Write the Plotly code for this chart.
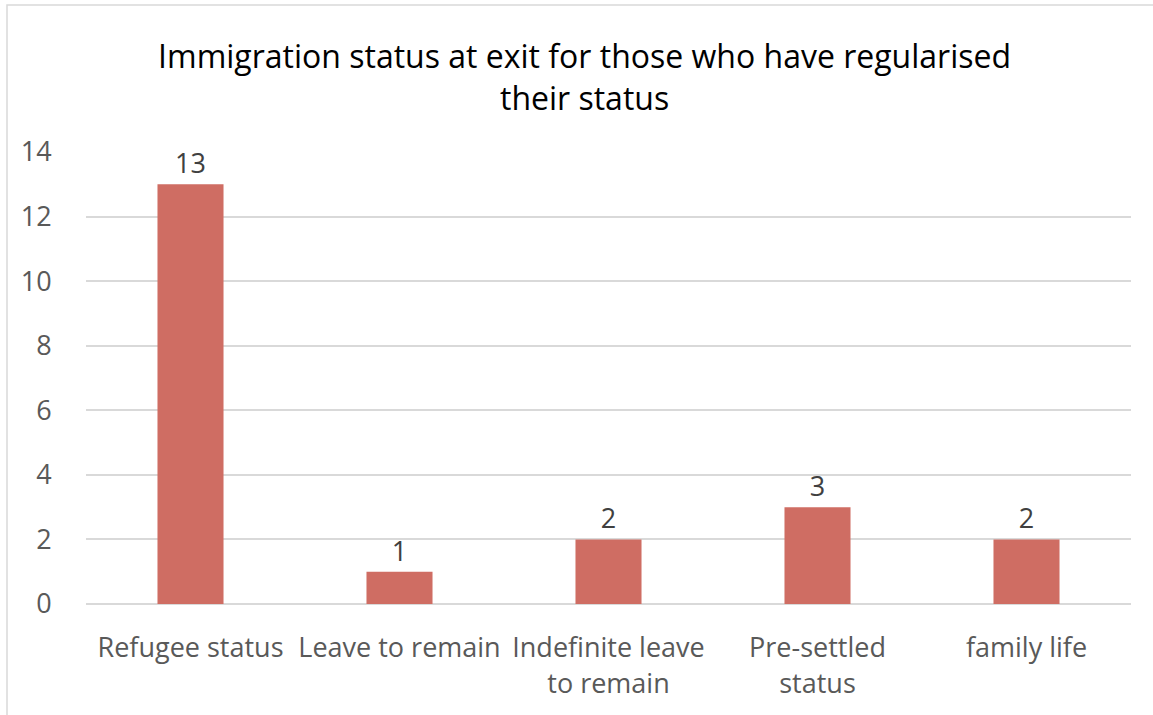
import plotly.graph_objects as go

categories = ["Refugee status", "Leave to remain", "Indefinite leave<br>to remain", "Pre-settled<br>status", "family life"]
values = [13, 1, 2, 3, 2]
y_ticks = [0, 2, 4, 6, 8, 10, 12, 14]

FONT = "Open Sans"

fig = go.Figure(go.Bar(
    x=categories, y=values,
    marker=dict(color="#CF6D63", line=dict(width=0)),
    text=[str(v) for v in values], textposition="outside",
    textfont=dict(family=FONT, size=27, color="#404040"),
    cliponaxis=False,
))

fig.update_layout(
    width=1153, height=715,
    margin=dict(l=86, r=22, t=152, b=111),
    paper_bgcolor="white", plot_bgcolor="white",
    bargap=0.684,
    title=dict(text="Immigration status at exit for those who have regularised<br>their status",
               x=0.507, xanchor="center", y=0.905, yanchor="top",
               font=dict(family=FONT, size=32, color="#000000")),
    font=dict(family=FONT),
    showlegend=False,
    xaxis=dict(showgrid=False, showline=False, ticks="outside", ticklen=20, tickcolor="rgba(0,0,0,0)",
               tickfont=dict(family=FONT, size=27, color="#595959")),
    yaxis=dict(range=[0, 14], tickvals=y_ticks, showgrid=True, gridcolor="#D9D9D9", gridwidth=1.5,
               zeroline=True, zerolinecolor="#D9D9D9", zerolinewidth=1.5, showline=False,
               ticks="outside", ticklen=28, tickcolor="rgba(0,0,0,0)",
               tickfont=dict(family=FONT, size=27, color="#595959")),
    shapes=[dict(type="rect", xref="paper", yref="paper", x0=-86/1045 + 7/1045, x1=1.2, y0=-1, y1=1 + (152 - 5) / 452,
                 line=dict(color="#D9D9D9", width=1.5), fillcolor="rgba(0,0,0,0)", layer="below")],
)

fig.write_html("out.html")
